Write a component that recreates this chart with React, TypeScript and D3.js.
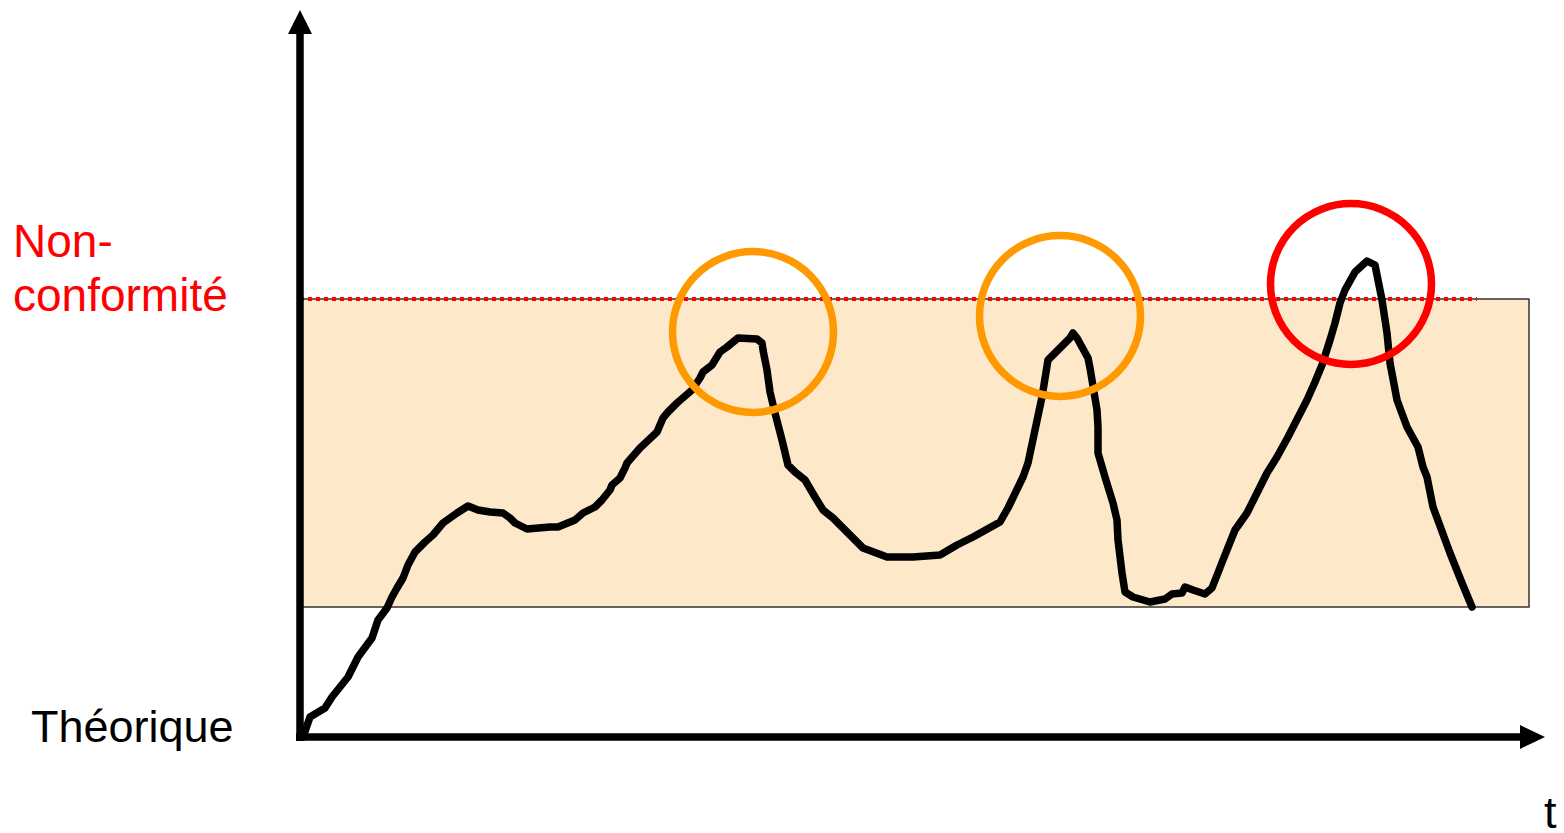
import React from 'react';
import * as d3 from 'd3';

// time samples (arbitrary units) and measured signal
const time = [
  0.6, 2, 5, 6.4, 9.6, 11.6, 14.4, 15.6, 17.4, 18.4, 19.4, 20.6, 21.6, 23, 25, 26.6, 28.6, 31.4, 33.6, 35.6,
  38, 40.6, 42, 43, 45.4, 50, 51.6, 55, 56.6, 59, 60.4, 62, 62.4, 64, 65, 65.4, 68, 71.4, 72.6, 73.6,
  75.4, 78.4, 80, 80.6, 82.4, 84, 85.4, 87.6, 91.4, 92.4, 92.6, 93.4, 94, 95, 96.4, 97.6, 99, 101, 103, 104.6,
  106.6, 109.4, 112.6, 117.4, 122.6, 128, 131.4, 134.6, 140, 141.6, 144.6, 145.6, 147, 148.4, 149.6, 151.6, 154, 154.6, 155.4, 157.6,
  158, 158.4, 159.4, 159.6, 159.6, 161, 162.6, 163.4, 163.6, 164.4, 165, 166.6, 170, 173, 174.4, 176.4, 177, 178.6, 181, 182.4,
  184.6, 187, 189.4, 192, 193.4, 195.4, 197.6, 201.4, 203, 204.4, 206, 207, 208, 209, 211, 213.4, 215, 215.6, 216.4, 217.4,
  218, 219.4, 221.4, 223.6, 224.6, 225.4, 226.6, 230, 232.4, 234.4,
];
const signal = [
  0, 10, 14.5, 20, 30, 40, 49.5, 58.5, 64.5, 70, 74.5, 79.5, 86, 92.5, 97.5, 101, 107, 112, 115.5, 113.5,
  112.5, 112, 109.5, 107, 104, 105, 105, 108.5, 112, 115, 118.5, 123.5, 126, 129.5, 134.5, 137, 144.5, 152.5, 159.5, 162.5,
  167, 173.5, 179.5, 182.5, 186, 192.5, 195, 199.5, 199, 197, 193.5, 183.5, 172.5, 162, 148.5, 136, 132.5, 128.5, 120, 113.5,
  109.5, 102.5, 94.5, 90, 90, 91, 96, 100, 107.5, 114.5, 130, 137, 153.5, 170, 188.5, 193.5, 199.5, 202, 199.5, 189.5,
  184.5, 178.5, 163.5, 155, 142, 130, 117, 108.5, 98.5, 82, 72.5, 70, 67.5, 69, 71.5, 72, 75, 73.5, 71.5, 74.5,
  88.5, 103.5, 112, 125, 132, 140, 150, 168.5, 177.5, 186, 198.5, 207, 217, 223.5, 232.5, 238, 236, 228.5, 218.5, 202,
  187, 168.5, 155, 145, 135, 130, 115, 92, 77, 65,
];

// tolerance band: lower bound and non-conformity limit
const bandLow = 65;
const limit = 219;
const bandEnd = 245.8;
const limitEnd = 235.4;

// highlighted excursions (orange = near limit, red = non-conform)
const alertTime = [90.6, 152, 210.2];
const alertValue = [202.5, 210.5, 226.5];
const alertColor = ['#FF9900', '#FF9900', '#FF0000'];

const tMax = 249;
const vMax = 363.5;

const W = 1564;
const H = 833;

export default function App() {
  const x = d3.scaleLinear().domain([0, tMax]).range([300, 1545]);
  const y = d3.scaleLinear().domain([0, vMax]).range([737, 10]);

  const pts = time.map((t, i) => [t, signal[i]] as [number, number]);
  const line = d3
    .line<[number, number]>()
    .x((d) => x(d[0]))
    .y((d) => y(d[1]))
    .curve(d3.curveLinear);

  const x0 = x(0);
  const y0 = y(0);
  const xEnd = x(tMax);
  const yTop = y(vMax);
  const font = 'Liberation Sans, Arial, sans-serif';

  return (
    <svg
      width={W}
      height={H}
      style={{ position: 'absolute', left: 0, top: 0, background: '#fff' }}
    >
      {/* tolerance band */}
      <rect
        x={x0}
        y={y(limit)}
        width={x(bandEnd) - x0}
        height={y(bandLow) - y(limit)}
        fill="#FDE9CA"
        stroke="#333"
        strokeWidth={1.5}
      />
      {/* non-conformity limit */}
      <line
        x1={x0}
        x2={x(limitEnd)}
        y1={y(limit)}
        y2={y(limit)}
        stroke="#FF0000"
        strokeWidth={4}
        strokeDasharray="4 4"
      />

      {/* signal */}
      <path
        d={line(pts) || ''}
        fill="none"
        stroke="#000"
        strokeWidth={7.5}
        strokeLinejoin="round"
        strokeLinecap="round"
      />

      {/* alert circles */}
      {alertTime.map((t, i) => (
        <circle
          key={i}
          cx={x(t)}
          cy={y(alertValue[i])}
          r={80.5}
          fill="none"
          stroke={alertColor[i]}
          strokeWidth={7.5}
        />
      ))}

      {/* axes */}
      <line x1={x0} x2={x0} y1={y0 + 4} y2={yTop + 20} stroke="#000" strokeWidth={7.5} />
      <path d={`M${x0},${yTop} L${x0 - 12},${yTop + 24} L${x0 + 12},${yTop + 24} Z`} fill="#000" />
      <line x1={x0 - 4} x2={xEnd - 20} y1={y0} y2={y0} stroke="#000" strokeWidth={7.5} />
      <path d={`M${xEnd},${y0} L${xEnd - 25},${y0 - 12} L${xEnd - 25},${y0 + 12} Z`} fill="#000" />

      {/* labels */}
      <text x={13} y={257} fontFamily={font} fontSize={46} fill="#FF0000">
        Non-
      </text>
      <text x={13} y={311} fontFamily={font} fontSize={46} fill="#FF0000">
        conformité
      </text>
      <text x={31} y={742} fontFamily={font} fontSize={45} fill="#000">
        Théorique
      </text>
      <text x={1544} y={828} fontFamily={font} fontSize={45} fill="#000">
        t
      </text>
    </svg>
  );
}
